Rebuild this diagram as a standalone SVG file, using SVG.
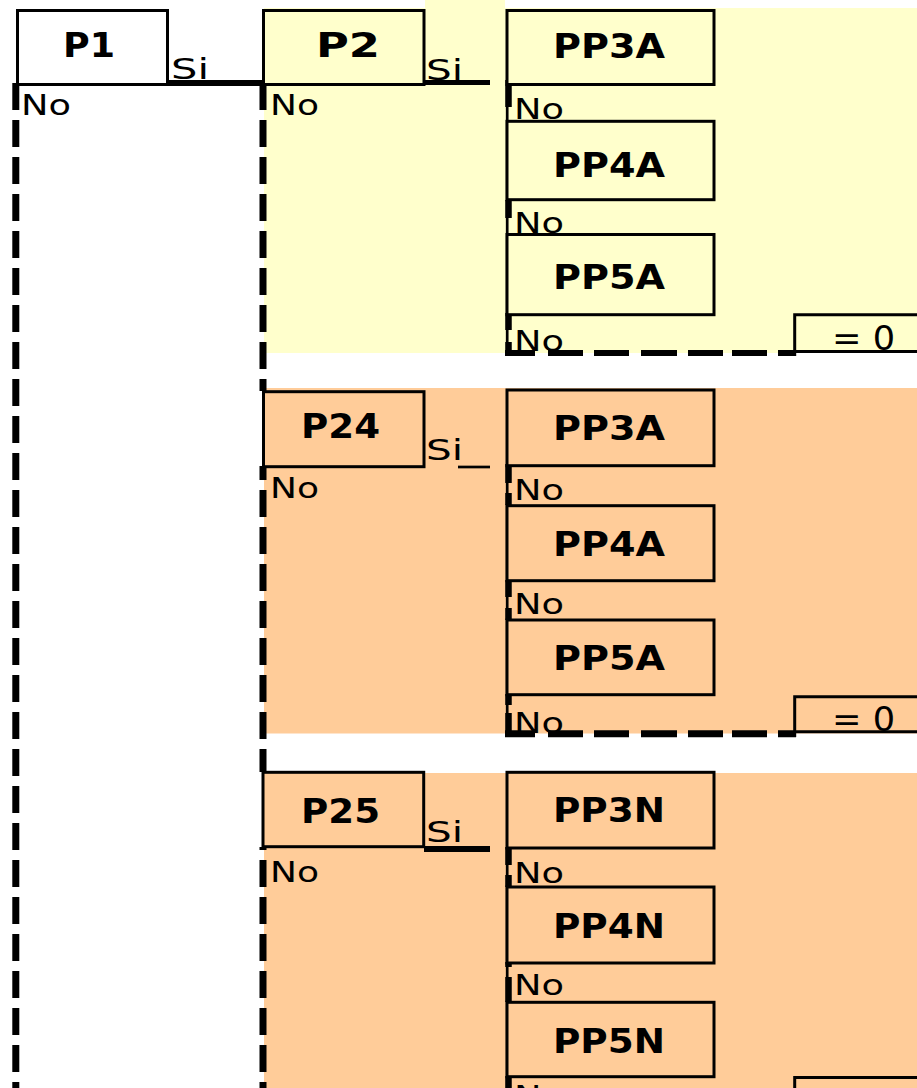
<svg xmlns="http://www.w3.org/2000/svg" width="917" height="1088" viewBox="0 0 917 1088">
<style>
.bx{stroke:#000;stroke-width:3}
.y{fill:#FFFFCC}
.o{fill:#FFCC99}
.w{fill:#FFFFFF}
.lbl{font-family:"DejaVu Sans",sans-serif;font-weight:bold;font-size:34px;fill:#000}
.t{font-family:"DejaVu Sans",sans-serif;font-size:29px;fill:#000}
.eq{font-family:"DejaVu Sans",sans-serif;font-size:34px;fill:#000}
.dash{stroke:#000;stroke-width:7;stroke-dasharray:27 10;fill:none}
.ln{stroke:#000;fill:none}
</style>
<rect width="917" height="1088" fill="#FFFFFF"/>
<g id="bands">
<rect x="264" y="8" width="653" height="345" class="y"/>
<rect x="425" y="0" width="80" height="8" class="y"/>
<rect x="264" y="388" width="653" height="345.5" class="o"/>
<rect x="264" y="773" width="653" height="315" class="o"/>
</g>
<g id="connectors">
<line x1="15.8" y1="83" x2="15.8" y2="1088" class="dash"/>
<line x1="263" y1="83" x2="263" y2="391" class="dash"/>
<line x1="263" y1="466" x2="263" y2="772" class="dash" stroke-dashoffset="13"/>
<line x1="263" y1="847" x2="263" y2="1088" class="dash" stroke-dashoffset="24"/>
<path d="M168 83 H263" class="ln" stroke-width="6"/>
<path d="M424 82.5 H490" class="ln" stroke-width="5"/>
<path d="M458 467 H490" class="ln" stroke-width="2.7"/>
<path d="M424 849 H490" class="ln" stroke-width="6"/>
<path d="M507.2 84 V353 M507.2 465 V734 M507.2 847 V1088" class="ln" stroke-width="2.7"/>
<path d="M508.5 80 V107 M508.5 200 V218 M508.5 313 V330 M508.5 342 V356 M508.5 464 V483 M508.5 493 V505 M508.5 580 V597 M508.5 608 V620 M508.5 694 V705 M508.5 713 V737 M508.5 847 V865 M508.5 875 V887 M508.5 962 V967 M508.5 977 V1002 M508.5 1076 V1088" class="ln" stroke-width="6.5"/>
<path d="M505 353 H535 M548 353 H583 M594 353 H629 M641 353 H677 M688 353 H723 M732 353 H767 M778 353 H796" class="ln" stroke-width="6"/>
<path d="M505 733.7 H535 M548 733.7 H583 M594 733.7 H629 M641 733.7 H677 M688 733.7 H723 M732 733.7 H767 M778 733.7 H796" class="ln" stroke-width="7"/>
</g>
<g id="P1">
<rect x="17.5" y="10.5" width="150" height="74" class="bx w"/>
<text x="63" y="57" class="lbl" textLength="52" lengthAdjust="spacingAndGlyphs">P1</text>
<text x="171" y="79" class="t" textLength="38" lengthAdjust="spacingAndGlyphs">Si</text>
<text x="21" y="115" class="t" textLength="50" lengthAdjust="spacingAndGlyphs">No</text>
</g>
<g id="P2">
<rect x="263.5" y="10.5" width="160.5" height="74" class="bx y"/>
<text x="316" y="57" class="lbl" textLength="64" lengthAdjust="spacingAndGlyphs">P2</text>
<text x="426" y="80" class="t" textLength="37" lengthAdjust="spacingAndGlyphs">Si</text>
<text x="270" y="115" class="t" textLength="49" lengthAdjust="spacingAndGlyphs">No</text>
</g>
<g id="PP3A-1">
<rect x="507" y="10.5" width="207" height="74" class="bx y"/>
<text x="553" y="58" class="lbl" textLength="112" lengthAdjust="spacingAndGlyphs">PP3A</text>
<text x="514" y="119" class="t" textLength="50" lengthAdjust="spacingAndGlyphs">No</text>
</g>
<g id="PP4A-1">
<rect x="507" y="121.3" width="207" height="78.4" class="bx y"/>
<text x="553" y="177" class="lbl" textLength="112" lengthAdjust="spacingAndGlyphs">PP4A</text>
<text x="514" y="233" class="t" textLength="50" lengthAdjust="spacingAndGlyphs">No</text>
</g>
<g id="PP5A-1">
<rect x="507" y="234.5" width="207" height="80.2" class="bx y"/>
<text x="553" y="289" class="lbl" textLength="112" lengthAdjust="spacingAndGlyphs">PP5A</text>
<text x="514" y="351" class="t" textLength="50" lengthAdjust="spacingAndGlyphs">No</text>
</g>
<g id="zero-1">
<path d="M794.7 356 V314.7 H917 M796 351.5 H917" class="ln" stroke-width="3"/>
<text x="832" y="350" class="eq" textLength="63" lengthAdjust="spacingAndGlyphs">= 0</text>
</g>
<g id="P24">
<rect x="263.5" y="391.7" width="160.5" height="75" class="bx o"/>
<text x="301" y="438" class="lbl" textLength="79" lengthAdjust="spacingAndGlyphs">P24</text>
<text x="426" y="460" class="t" textLength="37" lengthAdjust="spacingAndGlyphs">Si</text>
<text x="270" y="498" class="t" textLength="49" lengthAdjust="spacingAndGlyphs">No</text>
</g>
<g id="PP3A-2">
<rect x="507" y="390" width="207" height="75.7" class="bx o"/>
<text x="553" y="440" class="lbl" textLength="112" lengthAdjust="spacingAndGlyphs">PP3A</text>
<text x="514" y="500" class="t" textLength="50" lengthAdjust="spacingAndGlyphs">No</text>
</g>
<g id="PP4A-2">
<rect x="507" y="505.7" width="207" height="75" class="bx o"/>
<text x="553" y="556" class="lbl" textLength="112" lengthAdjust="spacingAndGlyphs">PP4A</text>
<text x="514" y="614" class="t" textLength="50" lengthAdjust="spacingAndGlyphs">No</text>
</g>
<g id="PP5A-2">
<rect x="507" y="620" width="207" height="74.7" class="bx o"/>
<text x="553" y="670" class="lbl" textLength="112" lengthAdjust="spacingAndGlyphs">PP5A</text>
<text x="514" y="733" class="t" textLength="50" lengthAdjust="spacingAndGlyphs">No</text>
</g>
<g id="zero-2">
<path d="M794.7 737 V696.7 H917 M796 731.7 H917" class="ln" stroke-width="3"/>
<text x="832" y="731" class="eq" textLength="63" lengthAdjust="spacingAndGlyphs">= 0</text>
</g>
<g id="P25">
<rect x="263" y="772.3" width="160.7" height="74.4" class="bx o"/>
<text x="301" y="823" class="lbl" textLength="79" lengthAdjust="spacingAndGlyphs">P25</text>
<text x="426" y="842" class="t" textLength="37" lengthAdjust="spacingAndGlyphs">Si</text>
<text x="270" y="882" class="t" textLength="49" lengthAdjust="spacingAndGlyphs">No</text>
</g>
<g id="PP3N">
<rect x="507" y="772.3" width="207" height="75.7" class="bx o"/>
<text x="553" y="822" class="lbl" textLength="112" lengthAdjust="spacingAndGlyphs">PP3N</text>
<text x="514" y="883" class="t" textLength="50" lengthAdjust="spacingAndGlyphs">No</text>
</g>
<g id="PP4N">
<rect x="507" y="887" width="207" height="76" class="bx o"/>
<text x="553" y="938" class="lbl" textLength="112" lengthAdjust="spacingAndGlyphs">PP4N</text>
<text x="514" y="995" class="t" textLength="50" lengthAdjust="spacingAndGlyphs">No</text>
</g>
<g id="PP5N">
<rect x="507" y="1002.3" width="207" height="74.4" class="bx o"/>
<text x="553" y="1053" class="lbl" textLength="112" lengthAdjust="spacingAndGlyphs">PP5N</text>
<text x="514" y="1106" class="t" textLength="50" lengthAdjust="spacingAndGlyphs">No</text>
</g>
<g id="zero-3">
<path d="M794.7 1088 V1077.5 H917" class="ln" stroke-width="3"/>
</g>
</svg>
